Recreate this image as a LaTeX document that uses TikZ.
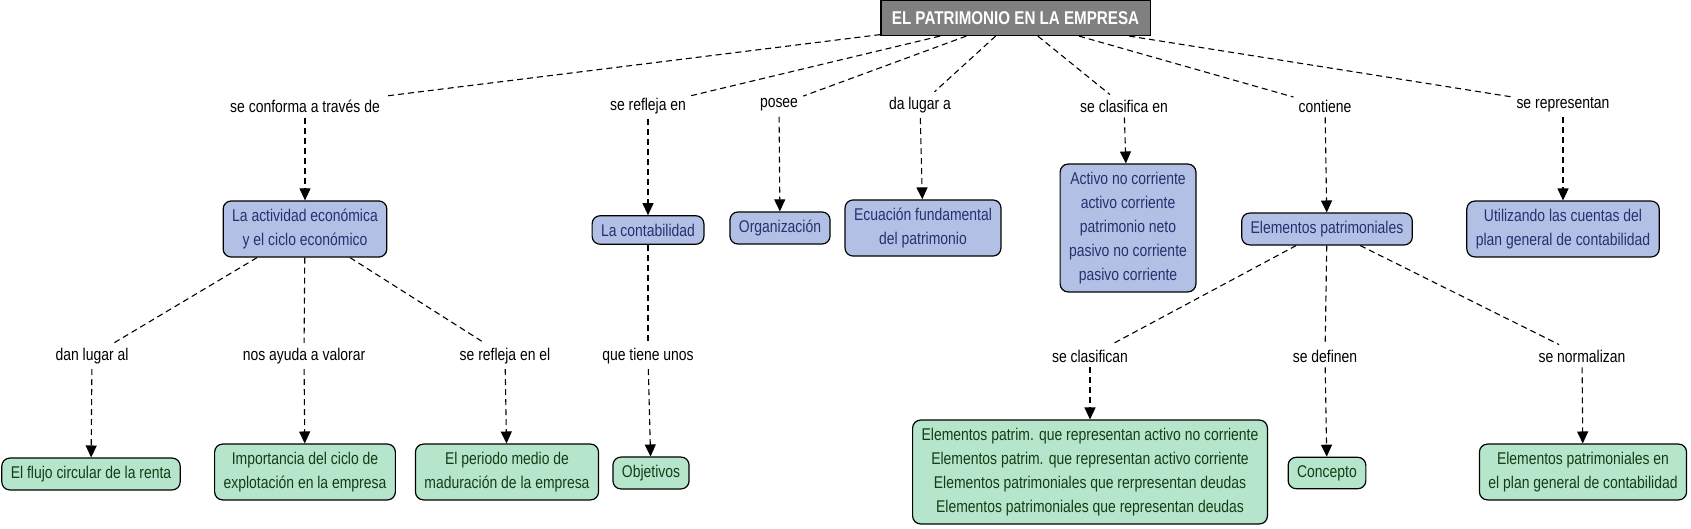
\documentclass[tikz,border=0pt]{standalone}
\usepackage{fontspec}
\setmainfont[FakeStretch=0.82]{Liberation Sans}
\usetikzlibrary{arrows.meta}
\definecolor{cmblue}{RGB}{179,192,230}
\definecolor{cmbluetext}{RGB}{38,48,110}
\definecolor{cmgreen}{RGB}{181,230,204}
\definecolor{cmgreentext}{RGB}{22,60,22}
\definecolor{cmgray}{RGB}{128,128,128}

\begin{document}
\begin{tikzpicture}[x=1pt,y=-1pt,
  concept/.style={draw=black,rounded corners=8pt,line width=1.2pt,align=center,
                  inner xsep=9pt,inner ysep=8pt,font=\fontsize{17}{24}\selectfont},
  blueconcept/.style={concept,fill=cmblue,text=cmbluetext},
  greenconcept/.style={concept,fill=cmgreen,text=cmgreentext},
  titleconcept/.style={draw=black,line width=1.2pt,fill=cmgray,text=white,
                  minimum height=35pt,inner xsep=11pt,font=\fontsize{18.5}{22}\selectfont\bfseries},
  linkphrase/.style={inner sep=5pt,font=\fontsize{17}{24}\selectfont},
  dashline/.style={line width=1.1pt,dash pattern=on 6pt off 4pt},
  dasharrow/.style={dashline,-{Triangle[length=12pt,width=11pt]}}]
\useasboundingbox (0,0) rectangle (1691,529);

\node[titleconcept] (patrimonio) at (1015.5,18) {EL PATRIMONIO EN LA EMPRESA};

% first row of phrases
\node[linkphrase] (conforma) at (305,106) {se conforma a través de};
\node[linkphrase] (refleja) at (648,106) {se refleja en};
\node[linkphrase] (posee) at (779,105) {posee};
\node[linkphrase] (dalugar) at (920,105) {da lugar a};
\node[linkphrase] (clasifica) at (1124,106) {se clasifica en};
\node[linkphrase] (contiene) at (1325,106) {contiene};
\node[linkphrase] (representan) at (1563,105) {se representan};

% blue concepts
\node[blueconcept] (actividad) at (305,229) {La actividad económica\\y el ciclo económico};
\node[blueconcept] (contabilidad) at (648,230) {La contabilidad};
\node[blueconcept] (organizacion) at (780,228) {Organización};
\node[blueconcept] (ecuacion) at (923,228) {Ecuación fundamental\\del patrimonio};
\node[blueconcept] (masas) at (1128,228) {Activo no corriente\\activo corriente\\patrimonio neto\\pasivo no corriente\\pasivo corriente};
\node[blueconcept] (elementos) at (1327,229) {Elementos patrimoniales};
\node[blueconcept] (cuentas) at (1563,229) {Utilizando las cuentas del\\plan general de contabilidad};

% second row of phrases
\node[linkphrase] (danlugar) at (92,356) {dan lugar al};
\node[linkphrase] (valorar) at (304,356) {nos ayuda a valorar};
\node[linkphrase] (reflejael) at (505,356) {se refleja en el};
\node[linkphrase] (tiene) at (648,356) {que tiene unos};
\node[linkphrase] (clasifican) at (1090,356) {se clasifican};
\node[linkphrase] (definen) at (1325,356) {se definen};
\node[linkphrase] (normalizan) at (1582,356) {se normalizan};

% green concepts
\node[greenconcept] (flujo) at (91,474) {El flujo circular de la renta};
\node[greenconcept] (importancia) at (305,472) {Importancia del ciclo de\\explotación en la empresa};
\node[greenconcept] (periodo) at (507,472) {El periodo medio de\\maduración de la empresa};
\node[greenconcept] (objetivos) at (651,473) {Objetivos};
\node[greenconcept] (tipos) at (1090,472) {Elementos patrim. que representan activo no corriente\\Elementos patrim. que representan activo corriente\\Elementos patrimoniales que rerpresentan deudas\\Elementos patrimoniales que representan deudas};
\node[greenconcept] (concepto) at (1327,473) {Concepto};
\node[greenconcept] (plan) at (1583,472) {Elementos patrimoniales en\\el plan general de contabilidad};

% connectors
\foreach \p/\c in {conforma/actividad,refleja/contabilidad,posee/organizacion,
                   dalugar/ecuacion,clasifica/masas,contiene/elementos,representan/cuentas}{
  \draw[dashline] (patrimonio) -- (\p);
  \draw[dasharrow] (\p) -- (\c);
}
\foreach \p/\c in {danlugar/flujo,valorar/importancia,reflejael/periodo}{
  \draw[dashline] (actividad) -- (\p);
  \draw[dasharrow] (\p) -- (\c);
}
\draw[dashline] (contabilidad) -- (tiene);
\draw[dasharrow] (tiene) -- (objetivos);
\foreach \p/\c in {clasifican/tipos,definen/concepto,normalizan/plan}{
  \draw[dashline] (elementos) -- (\p);
  \draw[dasharrow] (\p) -- (\c);
}
\end{tikzpicture}
\end{document}
